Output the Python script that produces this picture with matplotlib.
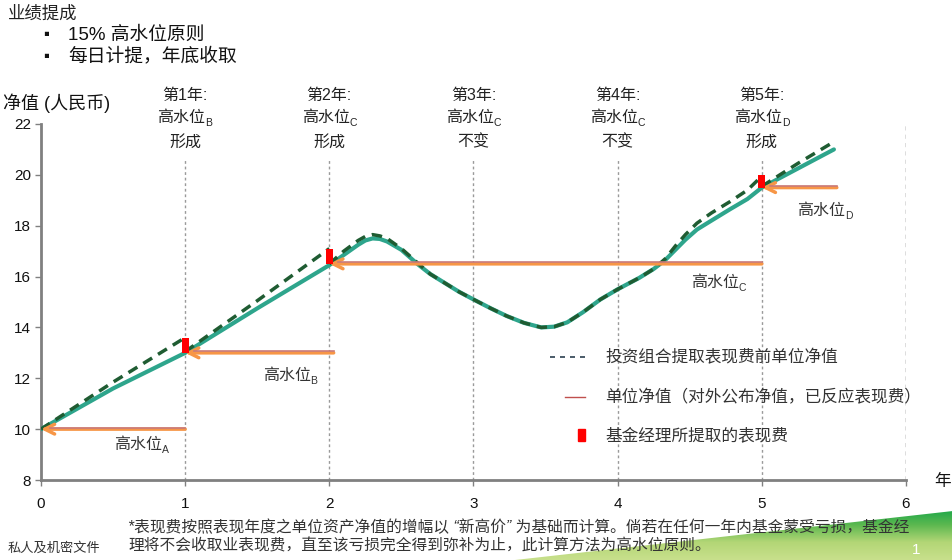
import numpy as np
import matplotlib
matplotlib.use('Agg')
import matplotlib.pyplot as plt
from matplotlib.patches import Polygon, Rectangle
from matplotlib.lines import Line2D
from matplotlib.colors import LinearSegmentedColormap

plt.rcParams['font.family'] = ['Liberation Sans', 'Noto Sans CJK SC', 'DejaVu Sans']

# 单位净值 (扣除表现费后)
nav_x = [0, 0.5, 1.0, 1.5, 2.0, 2.1, 2.2, 2.25, 2.3, 2.35, 2.4, 2.5, 2.61, 2.7, 2.8, 2.9, 3.0,
         3.12, 3.23, 3.35, 3.47, 3.56, 3.65, 3.76, 3.88, 4.0, 4.15, 4.25, 4.33, 4.4, 4.47,
         4.55, 4.65, 4.78, 4.9, 5.0, 5.25, 5.5]
nav_y = [10, 11.6, 13.0, 14.75, 16.45, 16.85, 17.25, 17.42, 17.5, 17.48, 17.38, 17.05, 16.5, 16.1,
         15.75, 15.4, 15.1, 14.75, 14.45, 14.18, 14.0, 14.03, 14.2, 14.6, 15.1, 15.5, 15.95, 16.3,
         16.65, 17.05, 17.45, 17.85, 18.2, 18.65, 19.05, 19.5, 20.25, 21.0]

# 提取表现费前单位净值 (每年一段, nan 断开)
gross_x = [0, 0.5, 1.0, np.nan,
           1.0, 1.5, 2.0, np.nan,
           2.0, 2.1, 2.2, 2.25, 2.3, 2.35, 2.4, 2.5, 2.61, 2.7, 2.8, 2.9, 3.0, 3.12, 3.23, 3.35,
           3.47, 3.56, 3.65, 3.76, 3.88, 4.0, 4.15, 4.25, 4.33, 4.4, 4.47, 4.55, 4.65, 4.78,
           4.9, 5.0, np.nan,
           5.0, 5.25, 5.5]
gross_y = [10, 11.85, 13.6, np.nan,
           13.05, 15.05, 17.1, np.nan,
           16.5, 17.0, 17.42, 17.58, 17.65, 17.6, 17.5, 17.1, 16.55, 16.1, 15.75, 15.4, 15.1, 14.75,
           14.45, 14.18, 14.0, 14.03, 14.2, 14.6, 15.1, 15.5, 15.95, 16.3, 16.7, 17.2, 17.65, 18.1,
           18.5, 18.95, 19.4, 19.95, np.nan,
           19.55, 20.45, 21.3]

# 表现费
fee_years = [1, 2, 5]
fee_low = [13.0, 16.5, 19.5]
fee_high = [13.6, 17.1, 20.0]

# 高水位
hw_names = ['A', 'B', 'C', 'D']
hw_level = [10, 13, 16.5, 19.5]
hw_from = [1.0, 2.03, 5.0, 5.52]
hw_to = [0, 1, 2, 5]
hw_label_x = [0.7, 1.73, 4.7, 5.44]
hw_label_y = [9.4, 12.1, 15.75, 18.6]

years = [1, 2, 3, 4, 5]
year_titles = ['第1年:', '第2年:', '第3年:', '第4年:', '第5年:']
year_hw = ['B', 'C', 'C', 'C', 'D']
year_status = ['形成', '形成', '不变', '不变', '形成']

FS = 11.5


def hw_text(ax, x, y, letter, color):
    # "高水位" + 下标字母, 整体居中于 (x, y)
    ax.annotate('高水位', (x, y), xytext=(-20, 0), textcoords='offset points', ha='left',
                va='center', fontsize=FS, color=color, annotation_clip=False)
    ax.annotate(letter, (x, y), xytext=(14.3, -4), textcoords='offset points', ha='left',
                va='center', fontsize=7.5, color=color, annotation_clip=False)


fig = plt.figure(figsize=(9.53, 5.6), dpi=100)

# 右下角绿色装饰
bg = fig.add_axes([0, 0, 1, 1], zorder=-5)
bg.set_xlim(0, 953)
bg.set_ylim(560, 0)
bg.axis('off')
grad = np.linspace(0, 1, 100).reshape(-1, 1) * np.ones((1, 50))
cmap = LinearSegmentedColormap.from_list('g', ['#14a548', '#5cb850', '#b3d676', '#c8e08c'])
img = bg.imshow(grad, extent=(515, 953, 560, 507), cmap=cmap, aspect='auto')
wedge = Polygon([(515, 560), (953, 511), (953, 560)], closed=True, transform=bg.transData)
img.set_clip_path(wedge)

ax = fig.add_axes([41 / 953, 1 - 480 / 560, 865 / 953, 356 / 560])
ax.set_xlim(0, 6)
ax.set_ylim(8, 22)
for s in ['top', 'right']:
    ax.spines[s].set_visible(False)
for s in ['left', 'bottom']:
    ax.spines[s].set_color('#808080')
    ax.spines[s].set_linewidth(2)
ax.set_xticks(range(0, 7))
ax.set_yticks(range(8, 23, 2))
ax.tick_params(colors='#808080', labelcolor='#111111', labelsize=11, length=4, width=1)
ax.tick_params(axis='x', pad=8)
ax.tick_params(axis='y', pad=3)

ax.vlines(years, 8, 20.6, colors='#9a9a9a', linestyles=(0, (2, 2)), lw=1, zorder=1)
ax.vlines([6], 8, 22, colors='#555555', linestyles=(0, (3, 3)), lw=1, zorder=1)

ax.plot(nav_x, nav_y, color='#2ea58c', lw=3, solid_capstyle='round', solid_joinstyle='round', zorder=3)
ax.plot(gross_x, gross_y, color='#1f5c32', lw=2.5, dashes=(3, 2), zorder=4)

ax.bar(fee_years, np.array(fee_high) - np.array(fee_low), bottom=fee_low, width=0.05,
       color='#ff0000', zorder=6)

for lvl, x0, x1 in zip(hw_level, hw_from, hw_to):
    ax.annotate('', xy=(x1, lvl), xytext=(x0, lvl),
                arrowprops=dict(arrowstyle='->,head_length=0.7,head_width=0.35', color='#f79646',
                                lw=2.5, shrinkA=0, shrinkB=0), zorder=5)
    ax.plot([x1 + 0.06, x0], [lvl + 0.06, lvl + 0.06], color='#c97a7a', lw=1.2, zorder=5)

for name, lx, ly in zip(hw_names, hw_label_x, hw_label_y):
    hw_text(ax, lx, ly, name, '#333333')

for yr, t, h, st in zip(years, year_titles, year_hw, year_status):
    ax.text(yr, 23.14, t, ha='center', va='center', fontsize=FS, color='#222222', clip_on=False)
    hw_text(ax, yr, 22.24, h, '#222222')
    ax.text(yr, 21.3, st, ha='center', va='center', fontsize=FS, color='#222222', clip_on=False)

# 图例
lt = ax.transAxes
ax.add_line(Line2D([0.588, 0.629], [0.3455, 0.3455], transform=lt, color='#2b3f4f', lw=1.2,
                   dashes=(3, 3)))
ax.add_line(Line2D([0.606, 0.629], [0.233, 0.233], transform=lt, color='#c0504d', lw=1))
ax.add_patch(Rectangle((0.621, 0.110), 0.008, 0.034, transform=lt, color='#ff0000'))
legend_labels = ['投资组合提取表现费前单位净值', '单位净值（对外公布净值，已反应表现费）', '基金经理所提取的表现费']
for yy, lab in zip([0.3455, 0.233, 0.126], legend_labels):
    ax.text(0.652, yy, lab, transform=lt, va='center', ha='left', fontsize=12, color='#333333')

# 标题与说明
fig.text(8 / 953, 1 - 14 / 560, '业绩提成', fontsize=12.5, va='center', color='#222222')
fig.text(43 / 953, 1 - 35 / 560, '▪', fontsize=12, va='center', color='#111111')
fig.text(68 / 953, 1 - 35 / 560, '15% 高水位原则', fontsize=13.5, va='center', color='#111111')
fig.text(43 / 953, 1 - 56 / 560, '▪', fontsize=12, va='center', color='#111111')
fig.text(68 / 953, 1 - 56 / 560, '每日计提，年底收取', fontsize=13.5, va='center', color='#111111')
fig.text(3 / 953, 1 - 103 / 560, '净值 (人民币)', fontsize=13, va='center', color='#111111')
fig.text(934 / 953, 1 - 481 / 560, '年', fontsize=12, va='center', color='#111111')

fig.text(128 / 953, 1 - 527 / 560,
         '*表现费按照表现年度之单位资产净值的增幅以 “新高价” 为基础而计算。倘若在任何一年内基金蒙受亏损，基金经',
         fontsize=11.3, va='center', color='#333333', style='italic')
fig.text(128 / 953, 1 - 546 / 560,
         '理将不会收取业表现费，直至该亏损完全得到弥补为止，此计算方法为高水位原则。',
         fontsize=11.3, va='center', color='#333333', style='italic')
fig.text(8 / 953, 1 - 549 / 560, '私人及机密文件', fontsize=9.5, va='center', color='#333333')
fig.text(912 / 953, 1 - 550 / 560, '1', fontsize=11, va='center', color='white')

fig.savefig('out.png', dpi=100)
